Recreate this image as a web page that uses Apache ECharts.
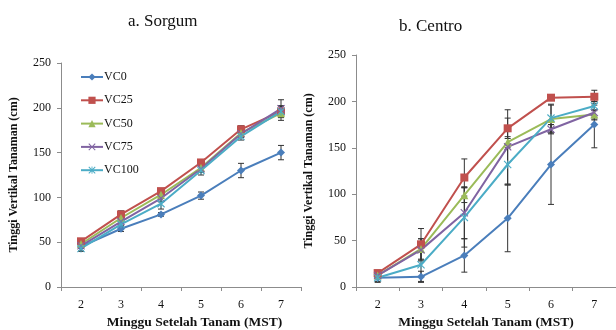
<!DOCTYPE html>
<html><head><meta charset="utf-8">
<script src="https://cdn.jsdelivr.net/npm/echarts@6/dist/echarts.min.js"></script>
<style>html,body{margin:0;padding:0;background:#fff}#c{width:616px;height:330px}</style>
</head><body><div id="c"></div>
<script>
const categories = ['2', '3', '4', '5', '6', '7'];
const seriesNames = ['VC0', 'VC25', 'VC50', 'VC75', 'VC100'];
const yTicks = [0, 50, 100, 150, 200, 250];

const sorgumVC0 = [45, 65, 81, 102, 130, 150];
const sorgumVC25 = [51, 81, 107, 139, 176, 196];
const sorgumVC50 = [48, 77, 103, 133, 172, 194];
const sorgumVC75 = [46, 73, 99, 132, 171, 199];
const sorgumVC100 = [43, 70, 93, 130, 168, 196];
const sorgumErrVC0 = [5, 3, 2, 4, 8, 8];
const sorgumErrVC25 = [3, 4, 3, 3, 4, 6];
const sorgumErrVC50 = [3, 4, 3, 4, 4, 8];
const sorgumErrVC75 = [3, 4, 4, 4, 4, 10];
const sorgumErrVC100 = [3, 3, 6, 5, 4, 6];

const centroVC0 = [10, 11, 34, 74, 132, 175];
const centroVC25 = [15, 46, 118, 171, 204, 205];
const centroVC50 = [12.5, 41, 99, 156, 181, 186];
const centroVC75 = [12.5, 40, 80, 151, 170, 188];
const centroVC100 = [10, 24, 75, 132, 182, 195];
const centroErrVC0 = [5, 6, 18, 36, 43, 25];
const centroErrVC25 = [3, 17, 20, 11, 3, 7];
const centroErrVC50 = [3, 11, 8, 6, 15, 5];
const centroErrVC75 = [3, 12, 28, 40, 5, 8];
const centroErrVC100 = [4, 18, 32, 22, 15, 5];

const colors = ['#4A7EBB', '#C0504D', '#9BBB59', '#8064A2', '#4BACC6'];
const xPath = 'path://M0,1L1,0L5,4L9,0L10,1L6,5L10,9L9,10L5,6L1,10L0,9L4,5Z';
const starPath = 'path://M0,1L1,0L5,4L9,0L10,1L6,5L10,9L9,10L5,6L1,10L0,9L4,5Z M4.4,0L5.6,0L5.6,10L4.4,10Z';
const symbols = ['diamond', 'rect', 'triangle', xPath, starPath];
const symbolSizes = [8, 8, 8, 8, 8];

const sorgumSets = [sorgumVC0, sorgumVC25, sorgumVC50, sorgumVC75, sorgumVC100];
const sorgumErrs = [sorgumErrVC0, sorgumErrVC25, sorgumErrVC50, sorgumErrVC75, sorgumErrVC100];
const centroSets = [centroVC0, centroVC25, centroVC50, centroVC75, centroVC100];
const centroErrs = [centroErrVC0, centroErrVC25, centroErrVC50, centroErrVC75, centroErrVC100];

const serif = 'Liberation Serif, Times New Roman, serif';
const axisColor = '#8c8c8c';

function errSeries(idx, vals, errs) {
  return {
    type: 'custom', xAxisIndex: idx, yAxisIndex: idx, silent: true, z: 1,
    data: vals.map((v, i) => [i, v - errs[i], v + errs[i]]),
    renderItem: function (params, api) {
      const lo = api.coord([api.value(0), api.value(1)]);
      const hi = api.coord([api.value(0), api.value(2)]);
      const c = 3;
      const st = { stroke: '#333', lineWidth: 1 };
      return { type: 'group', children: [
        { type: 'line', shape: { x1: lo[0], y1: lo[1], x2: hi[0], y2: hi[1] }, style: st },
        { type: 'line', shape: { x1: lo[0] - c, y1: lo[1], x2: lo[0] + c, y2: lo[1] }, style: st },
        { type: 'line', shape: { x1: hi[0] - c, y1: hi[1], x2: hi[0] + c, y2: hi[1] }, style: st }
      ]};
    }
  };
}
function lineSeries(idx, k, vals) {
  return {
    type: 'line', name: seriesNames[k], xAxisIndex: idx, yAxisIndex: idx,
    data: vals, symbol: symbols[k], symbolSize: symbolSizes[k], z: 3,
    lineStyle: { color: colors[k], width: 2 },
    itemStyle: { color: colors[k] }
  };
}
const series = [];
for (let k = 0; k < 5; k++) series.push(errSeries(0, sorgumSets[k], sorgumErrs[k]));
for (let k = 0; k < 5; k++) series.push(errSeries(1, centroSets[k], centroErrs[k]));
for (let k = 0; k < 5; k++) series.push(lineSeries(0, k, sorgumSets[k]));
for (let k = 0; k < 5; k++) series.push(lineSeries(1, k, centroSets[k]));

function xAxis(gi, padLeft) {
  return {
    type: 'category', gridIndex: gi, data: categories, boundaryGap: true,
    axisLine: { lineStyle: { color: axisColor, width: 1 } },
    axisTick: { show: true, inside: false, length: 4, lineStyle: { color: axisColor } },
    axisLabel: { color: '#111', fontFamily: serif, fontSize: 12, margin: 12 },
    name: 'Minggu Setelah Tanam (MST)', nameLocation: 'middle', nameGap: 22,
    nameTextStyle: { color: '#111', fontFamily: serif, fontSize: 13.5, fontWeight: 'bold', padding: [0, 0, 0, padLeft] }
  };
}
function yAxis(gi) {
  return {
    type: 'value', gridIndex: gi, min: yTicks[0], max: yTicks[yTicks.length - 1], interval: 50,
    splitLine: { show: false },
    axisLine: { show: true, lineStyle: { color: axisColor, width: 1 } },
    axisTick: { show: true, length: 4, lineStyle: { color: axisColor } },
    axisLabel: { color: '#111', fontFamily: serif, fontSize: 12, margin: 10 },
    name: 'Tinggi Vertikal Tanaman (cm)', nameLocation: 'middle', nameRotate: 90, nameGap: 41,
    nameTextStyle: { color: '#111', fontFamily: serif, fontSize: 12, fontWeight: 'bold' }
  };
}

const chart = echarts.init(document.getElementById('c'), null, { renderer: 'canvas' });
chart.setOption({
  animation: false,
  color: colors,
  title: [
    { text: 'a. Sorgum', left: 123, top: 8, textStyle: { fontFamily: serif, fontSize: 17, fontWeight: 'normal', color: '#111' } },
    { text: 'b. Centro', left: 394, top: 13, textStyle: { fontFamily: serif, fontSize: 17, fontWeight: 'normal', color: '#111' } }
  ],
  legend: {
    data: seriesNames, orient: 'vertical', left: 75, top: 66,
    itemWidth: 22, itemHeight: 9, itemGap: 11.3,
    textStyle: { fontFamily: serif, fontSize: 12, color: '#111', padding: [0, 0, 0, -4] }
  },
  grid: [
    { left: 61, top: 63, width: 240, height: 224, outerBoundsMode: 'none' },
    { left: 356, top: 55, width: 260, height: 232, outerBoundsMode: 'none' }
  ],
  xAxis: [xAxis(0, 27), xAxis(1, 0)],
  yAxis: [yAxis(0), yAxis(1)],
  series: series
});
</script></body></html>
